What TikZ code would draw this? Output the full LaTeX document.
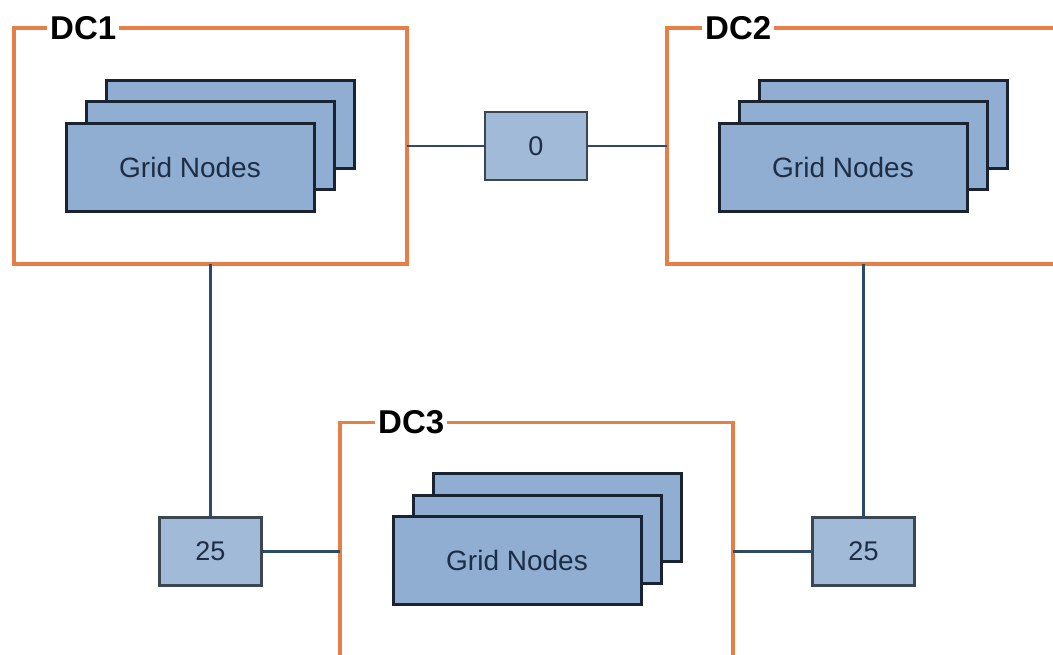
\documentclass[tikz,border=0pt]{standalone}
\usepackage{fontspec}
\setmainfont{Liberation Sans}
\usepackage{xcolor}
\usepackage{tikz}
\usetikzlibrary{positioning}
\definecolor{dcorange}{RGB}{230, 126, 70}
\definecolor{nodefill}{RGB}{143, 174, 210}
\definecolor{hopfill}{RGB}{160, 186, 216}
\definecolor{nodeline}{RGB}{25, 35, 50}
\definecolor{hopline}{RGB}{60, 70, 82}
\definecolor{linkblue}{RGB}{45, 75, 105}
\definecolor{textnavy}{RGB}{30, 45, 70}
\tikzset{
    dcnode/.style = {draw=dcorange, line width=3.5pt, fill=white, rectangle, inner sep=0pt, outer sep=0pt,
      minimum width=393pt, minimum height=236pt},
    dclabel/.style = {fill=white, anchor=west, inner sep=3pt, font=\fontsize{33}{36}\selectfont\bfseries},
    gridnode/.style = {draw=nodeline, line width=3pt, fill=nodefill, rectangle, inner sep=0pt, outer sep=0pt,
      minimum width=248pt, minimum height=88pt, text=textnavy, font=\fontsize{28}{32}\selectfont},
    hopnode/.style = {draw=hopline, line width=2.5pt, fill=hopfill, rectangle, inner sep=0pt, outer sep=0pt,
      minimum width=102pt, minimum height=68pt, text=textnavy, font=\fontsize{27}{30}\selectfont},
    link/.style = {linkblue, line width=2.8pt}
}

\begin{document}
\begin{tikzpicture}[x=1pt, y=-1pt]
\useasboundingbox (0,0) rectangle (1053,654);
% data centres
\node [name=dc1, dcnode] at (210.5,146) {};
\node [name=dc2, dcnode] at (863.5,146) {};
\node [name=dc3, dcnode] at (536.5,540.5) {};
\node [name=dc1label, dclabel, xshift=33pt] at (dc1.north west) {DC1};
\node [name=dc2label, dclabel, xshift=35pt] at (dc2.north west) {DC2};
\node [name=dc3label, dclabel, xshift=35pt] at (dc3.north west) {DC3};
% grid node stacks
\node [name=dc1back, gridnode, below right=52pt and 92pt of dc1.north west] {};
\node [name=dc1mid, gridnode, below right=73pt and 72pt of dc1.north west] {};
\node [name=dc1front, gridnode, below right=95pt and 52pt of dc1.north west] {Grid Nodes};
\node [name=dc2back, gridnode, below right=52pt and 92pt of dc2.north west] {};
\node [name=dc2mid, gridnode, below right=73pt and 72pt of dc2.north west] {};
\node [name=dc2front, gridnode, below right=95pt and 52pt of dc2.north west] {Grid Nodes};
\node [name=dc3back, gridnode, below right=51pt and 93pt of dc3.north west] {};
\node [name=dc3mid, gridnode, below right=73pt and 73pt of dc3.north west] {};
\node [name=dc3front, gridnode, below right=94pt and 53pt of dc3.north west] {Grid Nodes};
% latency boxes
\node [name=hop12, hopnode] at (536,146) {0};
\node [name=hop13, hopnode] at (210.5,551.5) {25};
\node [name=hop23, hopnode] at (863.5,551.5) {25};
\draw [link] (dc1) -- (hop12);
\draw [link] (hop12) -- (dc2);
\draw [link] (dc1) -- (hop13);
\draw [link] (dc2) -- (hop23);
\draw [link] (hop13) -- (hop13 -| dc3.west);
\draw [link] (hop23) -- (hop23 -| dc3.east);
\end{tikzpicture}
\end{document}
